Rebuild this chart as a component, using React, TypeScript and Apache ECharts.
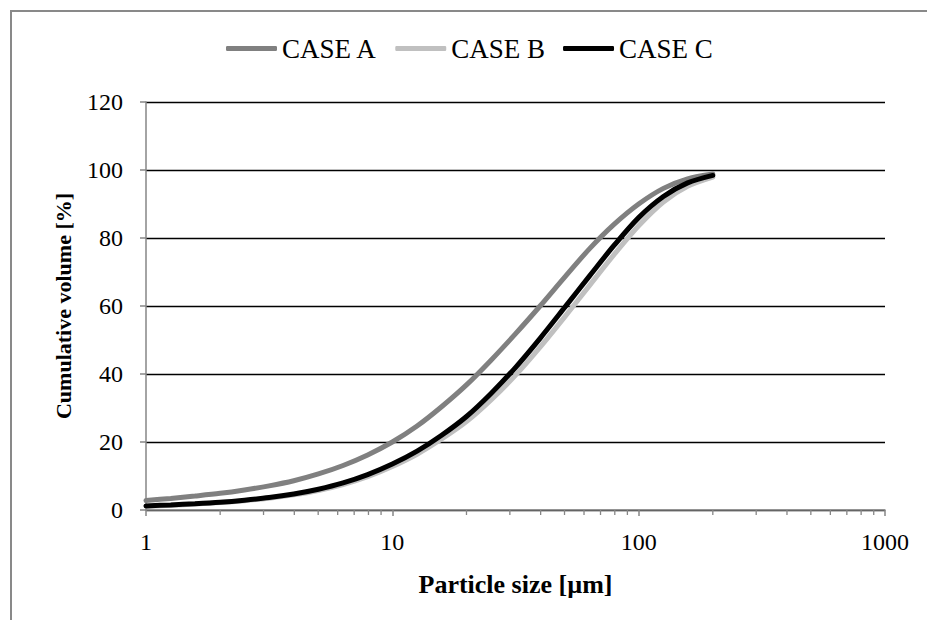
import React, { useEffect, useRef } from "react";
import * as echarts from "echarts";

const particleSizes = [1, 1.26, 1.58, 2, 2.51, 3.16, 3.98, 5.01, 6.31, 7.94, 10, 12.6, 15.8, 20, 25.1, 31.6, 39.8, 50.1, 63.1, 79.4, 100, 126, 158, 200];
const caseA = [2.8, 3.4, 4.1, 4.9, 5.9, 7.1, 8.6, 10.6, 13.1, 16.2, 20.0, 24.7, 30.3, 36.8, 44.0, 51.8, 60.0, 68.5, 76.8, 84.0, 90.0, 94.6, 97.4, 98.8];
const caseB = [1.1, 1.4, 1.75, 2.2, 2.75, 3.45, 4.45, 5.75, 7.5, 9.8, 12.8, 16.4, 20.8, 26.0, 32.3, 39.6, 47.9, 56.8, 66.0, 75.1, 83.6, 90.6, 95.2, 97.9];
const caseC = [1.2, 1.5, 1.85, 2.3, 2.9, 3.65, 4.7, 6.1, 7.95, 10.4, 13.5, 17.3, 21.9, 27.5, 34.2, 41.9, 50.5, 59.6, 68.8, 77.8, 86.0, 92.2, 96.2, 98.4];
const seriesNames = ["CASE A", "CASE B", "CASE C"];
const seriesColors = ["#808080", "#c0c0c0", "#000000"];
const minorTicks = [2, 3, 4, 5, 6, 7, 8, 9, 20, 30, 40, 50, 60, 70, 80, 90, 200, 300, 400, 500, 600, 700, 800, 900];

const FONT = "'Liberation Serif', 'Times New Roman', serif";
const AXIS_GRAY = "#868686";

export default function App() {
  const ref = useRef<HTMLDivElement>(null);
  useEffect(() => {
    if (!ref.current) return;
    const chart = echarts.init(ref.current, undefined, { renderer: "svg" });
    const values = [caseA, caseB, caseC];
    const lineSeries = seriesNames.map((name, i) => ({
      name,
      type: "line",
      data: particleSizes.map((x, j) => [x, values[i][j]]),
      showSymbol: false,
      smooth: 0.3,
      lineStyle: { color: seriesColors[i], width: 5, cap: "round" },
      itemStyle: { color: seriesColors[i] },
      z: 3 + i,
    }));
    chart.setOption({
      animation: false,
      backgroundColor: "#ffffff",
      textStyle: { fontFamily: FONT },
      graphic: [
        {
          type: "polyline",
          shape: { points: [[11, 700], [11, 11], [1000, 11]] },
          style: { fill: "none", stroke: "#898989", lineWidth: 2 },
          silent: true,
        },
      ],
      legend: {
        data: seriesNames,
        left: 221,
        top: 30,
        icon: "roundRect",
        itemWidth: 51,
        itemHeight: 5,
        itemGap: 18,
        textStyle: { fontFamily: FONT, fontSize: 27, color: "#000" },
      },
      grid: { left: 146, right: 42, top: 102, bottom: 110, containLabel: false },
      xAxis: {
        type: "log",
        logBase: 10,
        min: 1,
        max: 1000,
        name: "Particle size [µm]",
        nameLocation: "middle",
        nameGap: 61,
        nameTextStyle: { fontFamily: FONT, fontSize: 26, fontWeight: "bold", color: "#000" },
        axisLine: { show: true, lineStyle: { color: AXIS_GRAY, width: 1.5 } },
        axisTick: { show: true, length: 6, lineStyle: { color: AXIS_GRAY, width: 1.5 } },
        minorTick: { show: false },
        splitLine: { show: false },
        axisLabel: {
          fontFamily: FONT,
          fontSize: 24,
          color: "#000",
          margin: 20,
          formatter: (v: number) => String(Math.round(v)),
        },
      },
      yAxis: {
        type: "value",
        min: 0,
        max: 120,
        interval: 20,
        name: "Cumulative volume [%]",
        nameLocation: "middle",
        nameGap: 72,
        nameTextStyle: { fontFamily: FONT, fontSize: 22, fontWeight: "bold", color: "#000" },
        axisLine: { show: true, lineStyle: { color: AXIS_GRAY, width: 1.5 } },
        axisTick: { show: true, length: 6, lineStyle: { color: AXIS_GRAY, width: 1.5 } },
        splitLine: { show: true, lineStyle: { color: "#000", width: 1.3 } },
        axisLabel: { fontFamily: FONT, fontSize: 24, color: "#000", margin: 23 },
      },
      series: [
        ...lineSeries,
        {
          type: "custom",
          name: "minorTicks",
          silent: true,
          clip: false,
          data: minorTicks.map((v) => [v, 0]),
          renderItem: (params: any, api: any) => {
            const p = api.coord([api.value(0), 0]);
            return {
              type: "line",
              shape: { x1: p[0], y1: p[1], x2: p[0], y2: p[1] + 5 },
              style: { stroke: AXIS_GRAY, lineWidth: 1.3 },
            };
          },
          z: 1,
        },
      ],
    });
    return () => chart.dispose();
  }, []);
  return (
    <div
      ref={ref}
      style={{ position: "absolute", left: 0, top: 0, width: 927, height: 620 }}
    />
  );
}
